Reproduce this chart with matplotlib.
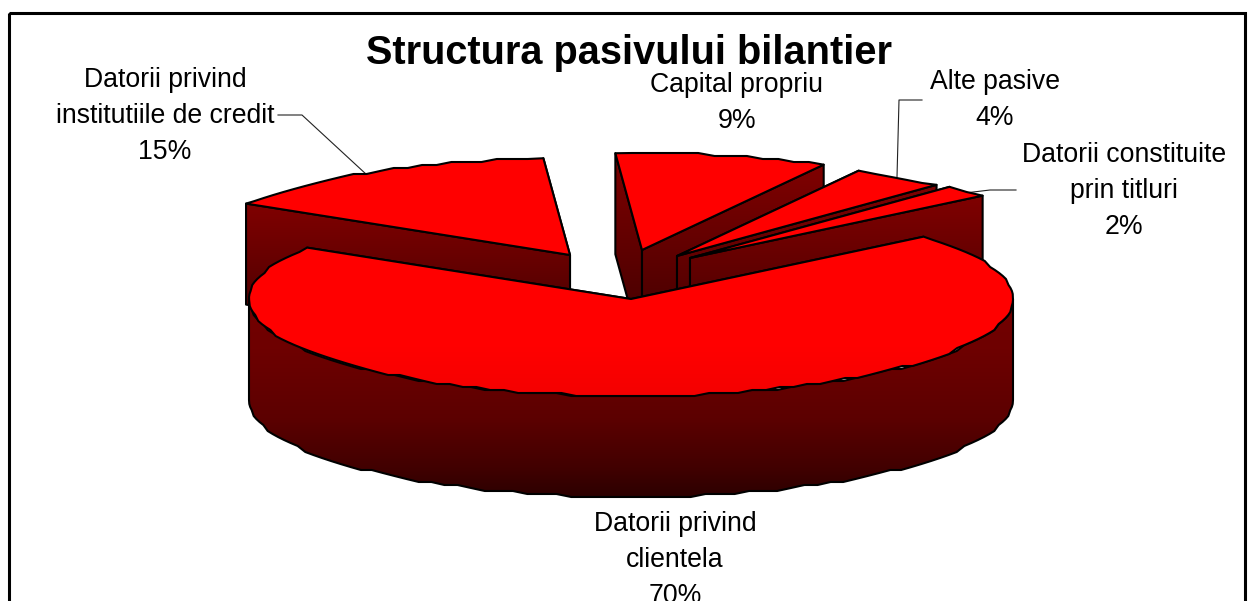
import numpy as np
import matplotlib
matplotlib.use('Agg')
import matplotlib.pyplot as plt
from matplotlib.colors import LinearSegmentedColormap
from matplotlib.patches import Polygon, Rectangle

plt.rcParams['font.family'] = ['Liberation Sans', 'DejaVu Sans']

# date
title = 'Structura pasivului bilantier'
names = ['Capital propriu', 'Alte pasive', 'Datorii constituite\nprin titluri',
         'Datorii privind\nclientela', 'Datorii privind\ninstitutiile de credit']
values = [9, 4, 2, 70, 15]

# geometria pie-ului 3d, in pixeli
cx, cy = 631, 299
rx, ry = 382, 97
depth = 101
start = 94
main = 3  # felia mare, singura cu perete exterior vizibil
explode = [(11, -49), (46, -43), (59, -41), (0, 0), (-61, -44)]
label_pos = [(737, 85), (995, 82), (1124, 155), (675, 524), (165, 80)]
line_step = 36
leaders = [([278, 302, 367], [115, 115, 175]),
           ([922, 899, 897], [100, 100, 177]),
           ([1016, 990, 965], [190, 190, 193])]

fig = plt.figure(figsize=(12.5, 6.01), dpi=100)
ax = fig.add_axes([0, 0, 1, 1])
ax.axis('off')

z = 2  # ordinea de desenare, fiecare fata peste cea dinainte


def arc(x0, y0, a0, a1):
    # marginea e zimtata in original, deci rotunjesc y la 3 px
    n = max(int(abs(a1 - a0) / 2.2), 2)
    t = np.radians(np.linspace(a0, a1, n))
    x = x0 + rx * np.cos(t)
    y = y0 - ry * np.sin(t)
    y[1:-1] = np.round(y[1:-1] / 3) * 3
    return np.column_stack([x, y])


def face(pts, colors, y0, y1):
    # poligon cu gradient vertical + contur negru
    global z
    z += 1
    poly = Polygon(pts, closed=True, fc='none', ec='none', zorder=z)
    ax.add_patch(poly)
    cmap = LinearSegmentedColormap.from_list('g', colors)
    img = np.linspace(0, 1, 256).reshape(-1, 1)
    im = ax.imshow(img, cmap=cmap, extent=[0, 1250, y1, y0], aspect='auto',
                   interpolation='bilinear', vmin=0, vmax=1, zorder=z)
    im.set_clip_path(poly)
    ax.add_patch(Polygon(pts, closed=True, fc='none', ec='black', lw=1.5,
                         joinstyle='round', zorder=z + 0.5))


for lx, ly in leaders:
    ax.plot(lx, ly, color='#222222', lw=0.8, zorder=1)

angles = start - np.cumsum([0] + values) * 3.6
order = [0, 1, 2, 4, 3]
for i in order:
    a0, a1 = angles[i], angles[i + 1]
    px = cx + explode[i][0]
    py = cy + explode[i][1]
    edge = arc(px, py, a0, a1)
    top = edge[:, 1].min()
    # fetele radiale, cea mai lata e in fata
    for p in sorted((edge[0], edge[-1]), key=lambda e: abs(e[0] - px)):
        quad = [(px, py), tuple(p), (p[0], p[1] + depth), (px, py + depth)]
        y0 = min(p[1], py)
        face(quad, ['#800000', '#3c0000'], y0, max(p[1], py) + depth)
    # peretele exterior, doar partea din fata
    if i == main:
        rim = arc(px, py, 0, -180)
        low = rim[::-1] + [0, depth]
        face(np.vstack([rim, low]),
             [(0, '#740000'), (0.25, '#6e0000'), (0.6, '#5c0000'),
              (0.85, '#420000'), (1, '#2c0000')], py, py + ry + depth)
    # fata de sus
    pts = np.vstack([[(px, py)], edge])
    if i == main:
        face(pts, [(0, '#ff0000'), (0.7, '#ff0000'), (1, '#f40000')], top, py + ry)
    else:
        face(pts, ['#ff0000', '#ff0000'], top, py)

# cadrul, jos iese din imagine
ax.add_patch(Rectangle((9, 13), 1236, 700, fc='none', ec='black', lw=2.2,
                       zorder=1))

ax.text(629, 53, title, ha='center', va='center', fontsize=28.6,
        fontweight='bold', color='black', zorder=100)

for name, val, (lx, ly) in zip(names, values, label_pos):
    lines = name.split('\n') + ['%d%%' % val]
    for k, s in enumerate(lines):
        ax.text(lx, ly + k * line_step, s, ha='center', va='center',
                fontsize=19.2, color='black', zorder=100)

ax.set_xlim(0, 1250)
ax.set_ylim(601, 0)
fig.savefig('out.png', dpi=100)
